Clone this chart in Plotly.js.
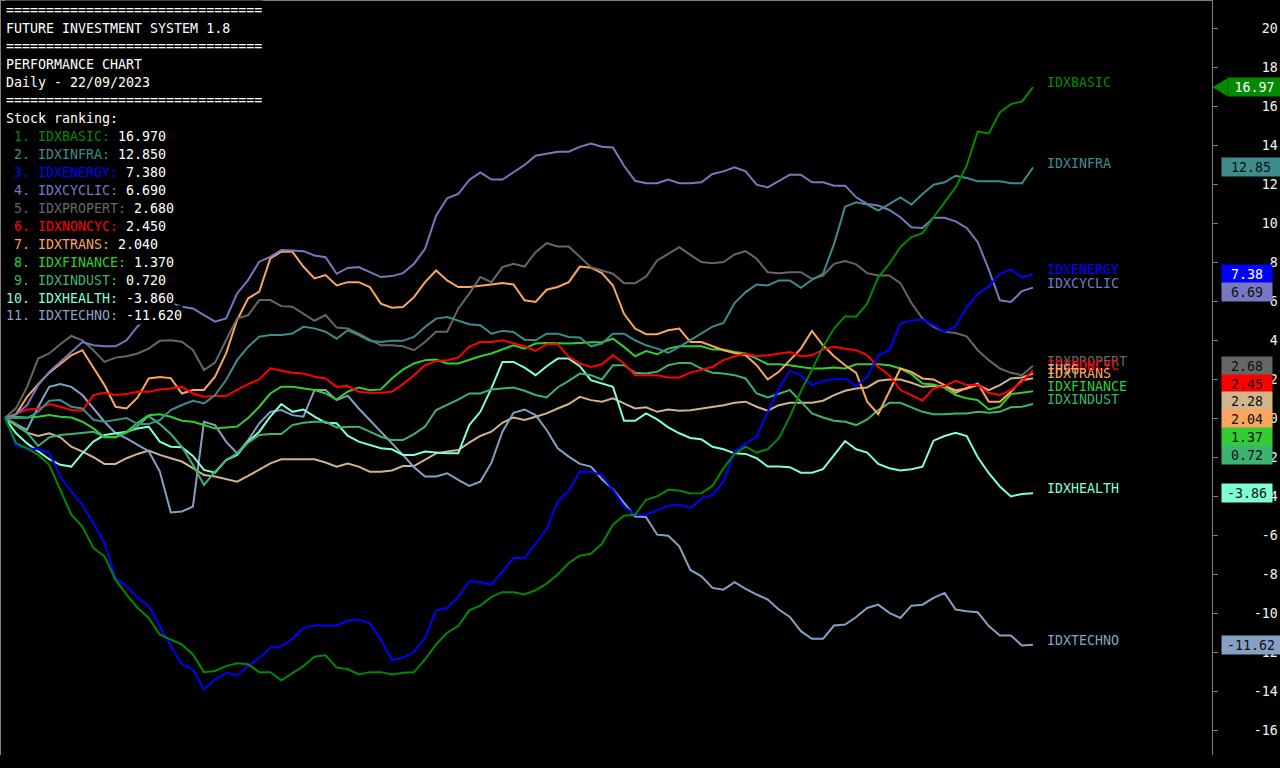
<!DOCTYPE html>
<html><head><meta charset="utf-8">
<script src="https://cdn.plot.ly/plotly-3.0.1.min.js"></script>
<style>html,body{margin:0;padding:0;background:#000;overflow:hidden}#chart{width:1280px;height:768px}</style>
</head><body><div id="chart"></div>
<script>
// ---------------- DATA ----------------
const seriesNames = ["IDXBASIC","IDXINFRA","IDXENERGY","IDXCYCLIC","IDXPROPERT","IDXNONCYC","IHSG","IDXTRANS","IDXFINANCE","IDXINDUST","IDXHEALTH","IDXTECHNO"];

const idxBasic = [0,-1.29,-1.55,-1.89,-2.40,-3.68,-4.96,-5.56,-6.67,-7.09,-8.29,-9.05,-9.74,-10.25,-11.10,-11.36,-11.61,-12.12,-13.03,-12.97,-12.72,-12.58,-12.63,-13.03,-13.03,-13.45,-13.09,-12.72,-12.24,-12.17,-12.80,-12.87,-13.15,-13.03,-13.03,-13.15,-13.06,-13.03,-12.38,-11.61,-11.01,-10.67,-9.86,-9.62,-9.17,-8.93,-8.93,-9.05,-8.83,-8.49,-8.03,-7.43,-7.06,-6.96,-6.45,-5.47,-5.01,-4.96,-4.19,-4.02,-3.68,-3.72,-3.87,-3.85,-3.48,-2.57,-1.84,-1.47,-1.77,-1.60,-1.04,0.07,1.38,2.46,3.65,4.59,5.22,5.20,5.87,7.23,7.91,8.76,9.28,9.48,10.30,11.07,11.83,12.94,14.70,14.60,15.67,16.10,16.23,16.97];
const idxInfra = [0,0,0,0.32,0.89,0.92,0.58,0.49,-0.09,-0.19,-0.09,0,-0.31,-0.30,-0.10,0.41,0.67,0.89,0.75,1.18,1.95,2.97,3.66,4.17,4.26,4.26,4.34,4.68,4.60,4.43,4.07,4.50,4.25,3.96,3.90,3.96,3.96,4.16,4.67,5.10,5.18,5.01,4.81,4.76,4.33,4.47,4.42,4.02,3.99,4.33,4.33,4.16,4.13,3.68,3.82,4.33,4.33,3.99,3.73,3.56,3.34,3.65,3.99,4.33,4.69,4.88,5.90,6.46,6.85,6.80,7.06,7.06,6.68,7.09,7.40,8.93,10.84,11.07,10.95,10.64,10.98,11.32,10.95,11.49,11.97,12.09,12.43,12.31,12.14,12.14,12.14,12.04,12.04,12.85];
const idxEnergy = [0,-1.43,-1.55,-1.60,-1.77,-3.00,-3.77,-4.45,-5.39,-6.41,-8.20,-8.63,-9.22,-9.65,-10.67,-11.70,-12.63,-12.89,-13.91,-13.40,-13.06,-13.20,-12.72,-12.29,-11.78,-11.70,-11.32,-10.76,-10.64,-10.64,-10.64,-10.40,-10.33,-10.54,-11.36,-12.41,-12.29,-12.00,-11.27,-9.86,-9.74,-9.17,-8.37,-8.42,-8.54,-7.86,-7.18,-7.18,-6.45,-5.69,-4.28,-3.72,-2.75,-2.75,-2.92,-3.68,-4.54,-4.96,-4.96,-4.71,-4.50,-4.45,-4.62,-4.13,-3.94,-3.26,-1.72,-1.30,-0.95,0.32,1.50,2.42,2.20,1.69,1.91,1.98,2.03,1.64,2.11,3.22,3.48,4.84,5.01,5.05,4.76,4.42,4.71,5.69,6.38,6.75,7.40,7.61,7.23,7.38];
const idxCyclic = [0,0.20,0.66,1.69,2.37,2.88,3.39,3.90,3.73,3.68,3.68,3.99,4.71,5.20,5.60,5.90,5.71,5.62,5.28,4.94,5.11,6.39,7.08,8.02,8.27,8.62,8.59,8.56,8.34,8.25,7.40,7.70,7.74,7.48,7.23,7.28,7.43,7.91,8.68,10.38,11.27,11.49,12.21,12.60,12.23,12.23,12.60,12.98,13.45,13.54,13.66,13.66,13.91,14.08,13.91,13.88,12.94,12.17,12.04,12.04,12.23,12.04,12.04,12.09,12.52,12.65,12.86,12.65,11.97,11.83,12.17,12.48,12.48,12.09,12.09,11.92,11.92,11.32,10.98,10.90,10.67,10.30,9.79,9.75,10.27,10.27,10.09,9.75,9.02,7.61,6.04,5.95,6.51,6.69];
const idxPropert = [0,0.51,1.60,3.05,3.31,3.79,4.21,3.99,3.48,2.88,3.10,3.17,3.31,3.56,3.96,3.99,3.91,3.49,2.46,2.84,4.00,5.11,5.28,6.05,6.05,5.74,5.71,5.37,4.99,5.28,4.64,4.59,4.33,4.02,3.73,3.73,3.68,3.48,3.90,4.42,4.42,5.61,6.38,7.23,6.97,7.74,7.91,7.77,8.51,8.97,8.80,8.80,8.29,7.74,7.57,7.40,6.92,6.92,7.26,8.08,8.42,8.76,8.37,8.00,7.94,8.00,8.39,8.56,8.17,7.48,7.43,7.48,7.48,7.14,7.31,7.91,8.05,7.88,7.43,7.31,7.31,6.92,5.90,5.10,4.67,4.42,4.36,4.19,3.48,2.97,2.54,2.32,2.20,2.68];
const idxNoncyc = [0,0.24,0.44,0.49,0.72,0.58,0.41,0.38,1.18,1.30,1.18,1.23,1.35,1.35,1.47,1.52,1.61,1.26,1.09,1.13,1.13,1.44,1.74,1.98,2.55,2.43,2.32,2.29,2.12,2.03,1.60,1.64,1.35,1.30,1.30,1.35,1.74,2.20,2.71,2.93,2.97,3.10,3.65,3.90,3.90,3.99,3.85,3.68,3.44,3.79,3.79,3.14,2.80,2.62,2.76,3.22,2.80,2.20,2.20,2.20,2.08,2.08,2.33,2.46,2.62,2.97,3.17,3.31,3.17,3.22,3.31,3.39,3.17,3.22,3.51,3.65,3.56,3.48,3.22,2.62,2.20,1.45,1.18,0.89,1.52,1.64,1.91,1.69,1.69,1.30,1.18,1.43,1.86,2.45];
const ihsg = [0,-0.36,-0.75,-0.92,-0.78,-0.99,-1.47,-1.72,-2.01,-2.35,-2.35,-2.06,-1.84,-1.67,-1.89,-2.06,-2.23,-2.57,-2.92,-3.00,-3.14,-3.26,-2.97,-2.66,-2.32,-2.11,-2.11,-2.11,-2.11,-2.28,-2.49,-2.33,-2.49,-2.75,-2.75,-2.69,-2.46,-2.46,-2.15,-1.81,-1.72,-1.64,-1.26,-0.92,-0.70,-0.24,0.03,-0.10,0.07,0.24,0.49,0.72,1.09,0.92,0.84,1.01,0.75,0.49,0.55,0.32,0.44,0.38,0.40,0.49,0.55,0.66,0.78,0.84,0.58,0.38,0.66,0.78,0.78,0.78,0.89,1.18,1.40,1.52,1.57,1.91,1.98,1.98,1.81,1.60,1.64,1.64,1.43,1.52,1.69,1.43,1.69,2.03,2.08,2.28];
const idxTrans = [0,0.20,1.09,1.74,2.32,2.76,3.22,3.48,2.59,1.69,0.58,0.49,1.06,2.03,2.11,2.05,1.26,1.44,1.44,2.12,3.32,5.03,6.14,6.48,8.19,8.53,8.53,7.76,7.16,7.33,6.80,6.97,6.97,6.72,5.87,5.66,5.69,6.20,6.97,7.57,7.06,6.72,6.72,6.80,6.85,6.92,6.85,6.04,5.95,6.58,6.72,6.97,7.77,7.71,7.43,6.80,5.35,4.59,4.30,4.30,4.50,4.59,3.90,3.90,3.68,3.48,3.34,3.22,2.71,1.98,2.37,2.97,3.56,4.47,3.73,3.17,2.71,2.32,0.84,0.20,1.35,2.54,2.37,2.03,1.98,1.69,1.30,1.52,1.77,0.84,0.84,1.35,1.94,2.04];
const idxFinance = [0,0.07,0.03,0.07,0.15,0.07,0.03,-0.19,-0.53,-0.99,-0.99,-0.70,-0.24,0.15,0.20,0.07,-0.14,-0.19,-0.36,-0.53,-0.48,-0.44,0,0.58,1.26,1.61,1.61,1.52,1.44,1.26,0.95,1.35,1.57,1.43,1.47,2.03,2.49,2.80,2.97,3.00,2.80,2.80,3.00,3.17,3.31,3.51,3.73,3.56,3.82,3.85,3.82,3.82,3.85,3.89,3.89,4.07,3.65,3.17,3.44,3.27,3.56,3.68,3.68,3.68,3.51,3.51,3.39,3.31,3.05,2.76,2.76,2.71,2.62,2.54,2.54,2.59,2.54,2.76,2.76,2.76,2.71,2.54,2.25,1.77,1.72,1.55,1.18,1.01,0.92,0.44,0.58,1.23,1.30,1.37];
const idxIndust = [0,-0.31,-0.75,-1.43,-0.99,-0.87,-0.82,-0.75,-0.70,-0.96,-0.99,-0.75,-0.41,0.10,-0.31,-0.82,-1.47,-2.40,-3.43,-2.75,-2.15,-1.81,-1.26,-0.87,-0.82,-0.82,-0.36,-0.24,-0.19,-0.19,-0.48,-0.46,-0.44,-0.70,-0.96,-1.13,-1.13,-0.82,-0.44,0.41,0.66,0.95,1.26,1.26,1.47,1.52,1.57,1.40,1.18,1.06,1.57,1.91,2.28,2.20,1.98,2.71,2.71,2.32,2.28,2.37,2.71,2.83,2.83,2.54,2.32,2.28,2.20,2.03,1.26,1.06,1.26,1.43,0.84,0.24,0.03,-0.14,-0.19,-0.36,-0.07,0.41,0.78,0.78,0.55,0.32,0.20,0.20,0.24,0.24,0.32,0.27,0.32,0.55,0.58,0.72];
const idxHealth = [0,-0.78,-1.30,-1.72,-2.11,-2.40,-2.49,-1.81,-1.21,-0.87,-0.78,-0.70,-0.53,-0.44,-1.21,-1.47,-1.50,-1.94,-2.66,-2.80,-2.15,-1.89,-1.21,-0.70,0.07,0.72,0.32,0.44,0.07,-0.24,-0.27,-0.90,-1.21,-1.38,-1.55,-1.60,-1.89,-1.89,-1.72,-1.77,-1.81,-1.81,-0.36,0.32,1.52,2.88,2.88,2.59,2.20,2.66,3.05,3.05,2.66,1.94,1.77,1.60,-0.14,-0.14,0.24,-0.07,-0.48,-0.78,-1.02,-1.09,-1.47,-1.60,-1.81,-1.84,-2.06,-2.49,-2.49,-2.52,-2.80,-2.80,-2.62,-1.89,-1.18,-1.60,-1.77,-2.35,-2.57,-2.69,-2.62,-2.49,-1.16,-0.92,-0.75,-0.92,-2.01,-2.83,-3.51,-4.02,-3.89,-3.86];
const idxTechno = [0,-0.30,-0.60,0.58,1.60,1.74,1.60,1.18,0.50,-0.19,-0.78,-1.04,-1.38,-1.70,-2.73,-4.84,-4.79,-4.54,-0.19,-0.36,-1.21,-1.81,-1.13,-0.27,0.32,0.41,0.15,0.07,1.44,1.44,0.92,1.15,0.49,-0.10,-0.70,-1.30,-1.89,-2.52,-3.00,-3.00,-2.83,-3.17,-3.48,-3.26,-2.30,-0.70,0.27,0.44,0.15,-0.61,-1.55,-1.98,-2.35,-2.49,-3.14,-3.65,-4.36,-5.05,-5.08,-5.98,-6.04,-6.58,-7.79,-8.12,-8.71,-8.80,-8.42,-8.76,-9.05,-9.31,-9.82,-10.20,-10.93,-11.32,-11.32,-10.64,-10.59,-10.20,-9.74,-9.57,-9.99,-10.25,-9.62,-9.57,-9.22,-8.97,-9.82,-9.91,-9.96,-10.67,-11.15,-11.15,-11.66,-11.62];

const seriesValues = [idxBasic, idxInfra, idxEnergy, idxCyclic, idxPropert, idxNoncyc, ihsg, idxTrans, idxFinance, idxIndust, idxHealth, idxTechno];

const headerLines = ["================================","FUTURE INVESTMENT SYSTEM 1.8","================================","PERFORMANCE CHART","Daily - 22/09/2023","================================","Stock ranking:"];
const yTickValues = [-16,-14,-12,-10,-8,-6,-4,-2,0,2,4,6,8,10,12,14,16,18,20];

// ---------------- STYLE ----------------
const lineColors = {
  IDXBASIC:"#008a00", IDXINFRA:"#3f8c8c", IDXENERGY:"#0000ff", IDXCYCLIC:"#7878c0",
  IDXPROPERT:"#666666", IDXNONCYC:"#ff0000", IHSG:"#d2b48c", IDXTRANS:"#f9a65f",
  IDXFINANCE:"#32cd32", IDXINDUST:"#3cb371", IDXHEALTH:"#7fffd4", IDXTECHNO:"#86a0c4"
};
const boxTextColors = {IDXBASIC:"#ffffff", IDXENERGY:"#ffffff"};
const FONT = "DejaVu Sans Mono";
const FS = 13.3;
const W = 1212, H = 755;
const yMin = -17.28, yMax = 21.44;
const xStartPx = 5, xStepPx = 11.054;
const NB = "\u00a0";

const vToPy = v => (yMax - v) / (yMax - yMin) * H;
const pyToPaper = py => 1 - py / H;
const pxToPaper = px => px / W;
const lastOf = k => seriesValues[k][seriesValues[k].length - 1];

// ---------------- TRACES ----------------
const traces = [];
const drawOrder = [6, 11, 10, 9, 8, 7, 5, 4, 3, 1, 2, 0];
drawOrder.forEach(k => {
  const vals = seriesValues[k];
  traces.push({
    type: "scatter", mode: "lines",
    x: vals.map((_, i) => i), y: vals,
    line: {color: lineColors[seriesNames[k]], width: 2},
    hoverinfo: "skip", showlegend: false
  });
});

const annotations = [];
const shapes = [];

// header block (top-left)
const lineTop = 10.3, linePitch = 17.95;
headerLines.forEach((t, k) => {
  annotations.push({
    xref: "paper", yref: "paper", x: 0, xshift: 5, xanchor: "left",
    y: pyToPaper(lineTop + linePitch * k), yanchor: "middle",
    text: t, showarrow: false, align: "left", bgcolor: "#000", borderpad: 0, height: 18,
    font: {family: FONT, size: FS, color: "#ffffff"}
  });
});

// ranking (excluding IHSG)
const rankIdx = seriesNames.map((n, k) => k).filter(k => seriesNames[k] !== "IHSG")
  .sort((a, b) => lastOf(b) - lastOf(a));
rankIdx.forEach((k, r) => {
  const name = seriesNames[k];
  const num = String(r + 1).padStart(2, NB);
  const txt = `<span style="color:${lineColors[name]}">${num}.${NB}${name}:</span>${NB}${lastOf(k).toFixed(3)}`;
  annotations.push({
    xref: "paper", yref: "paper", x: 0, xshift: 5, xanchor: "left",
    y: pyToPaper(lineTop + linePitch * (headerLines.length + r)), yanchor: "middle",
    text: txt, showarrow: false, align: "left", bgcolor: "#000", borderpad: 0, height: 18,
    font: {family: FONT, size: FS, color: "#ffffff"}
  });
});

// end-of-line name labels
seriesNames.forEach((name, k) => {
  const vals = seriesValues[k];
  annotations.push({
    xref: "x", yref: "y", x: vals.length - 1, y: vals[vals.length - 1],
    xanchor: "left", yanchor: "middle", xshift: 12, yshift: 4.5,
    text: name, showarrow: false,
    font: {family: FONT, size: FS, color: lineColors[name]}
  });
});

// value boxes on the right axis (stacked to avoid overlap)
const allRank = seriesNames.map((n, k) => k).sort((a, b) => lastOf(b) - lastOf(a));
const boxH = 17.8;
let prevPy = -1e9;
allRank.forEach((k, r) => {
  const name = seriesNames[k];
  const last = lastOf(k);
  let py = vToPy(last);
  if (py < prevPy + boxH) py = prevPy + boxH;
  prevPy = py;
  const leader = r === 0;
  const left = leader ? 1227 : 1221;
  const width = leader ? 53 : (Math.abs(last) >= 10 ? 58 : 50);
  annotations.push({
    xref: "paper", yref: "paper", x: pxToPaper(left), xanchor: "left",
    y: pyToPaper(py), yanchor: "middle",
    text: last.toFixed(2), showarrow: false, align: "center", valign: "middle",
    width: width, height: 18, borderpad: 0, bgcolor: lineColors[name],
    font: {family: FONT, size: FS, color: boxTextColors[name] || "#111111"}
  });
  if (leader) {
    const x0 = pxToPaper(1212.5), x1 = pxToPaper(1227.5);
    shapes.push({
      type: "path", xref: "paper", yref: "paper",
      path: `M ${x0},${pyToPaper(py)} L ${x1},${pyToPaper(py - 9)} L ${x1},${pyToPaper(py + 9)} Z`,
      fillcolor: lineColors[name], line: {width: 0}
    });
  }
});

// frame lines (left / top)
shapes.push({type: "line", xref: "paper", yref: "paper", x0: 0, x1: 0, y0: 0, y1: 1, line: {color: "#7f7f7f", width: 2}});
shapes.push({type: "line", xref: "paper", yref: "paper", x0: 0, x1: 1, y0: 1, y1: 1, line: {color: "#7f7f7f", width: 2}});

const tickText = yTickValues.map(v => String(v).padStart(3, NB));

const layout = {
  width: 1280, height: 768,
  margin: {l: 0, r: 68, t: 0, b: 13, pad: 0},
  paper_bgcolor: "#000", plot_bgcolor: "#000",
  showlegend: false, hovermode: false,
  xaxis: {
    range: [-xStartPx / xStepPx, (W - xStartPx) / xStepPx],
    visible: false, fixedrange: true
  },
  yaxis: {
    side: "right", range: [yMin, yMax], fixedrange: true,
    showgrid: false, zeroline: false,
    showline: true, linecolor: "#808080", linewidth: 1,
    ticks: "outside", ticklen: 5, tickcolor: "#808080", tickwidth: 1,
    tickmode: "array", tickvals: yTickValues, ticktext: tickText,
    ticklabelstandoff: 33,
    tickfont: {family: FONT, size: FS, color: "#f2f2f2"}
  },
  annotations: annotations,
  shapes: shapes
};

Plotly.newPlot("chart", traces, layout, {staticPlot: true, displayModeBar: false});
</script>
</body></html>
